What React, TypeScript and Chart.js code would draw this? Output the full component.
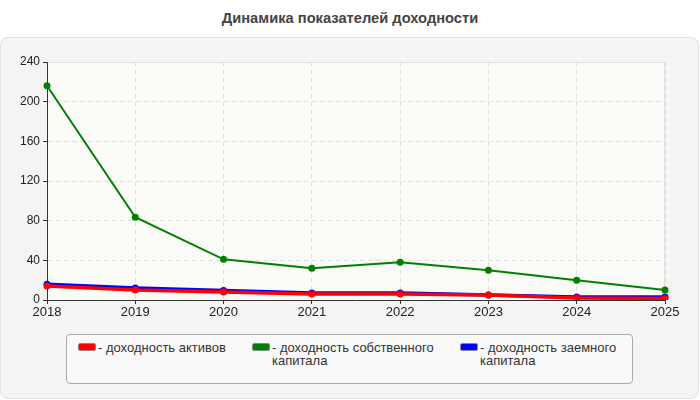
import { useEffect, useRef } from "react";
import Chart from "chart.js/auto";

const years = ["2018", "2019", "2020", "2021", "2022", "2023", "2024", "2025"];

const assetReturn = [14, 10, 8, 6, 6, 5, 2, 1.5];
const equityReturn = [216, 83.5, 41, 32, 38, 30, 20, 10];
const debtReturn = [16, 12, 9.5, 7, 7, 5, 3, 3];

const seriesNames = [
  "- доходность активов",
  "- доходность собственного капитала",
  "- доходность заемного капитала",
];
const seriesColors = ["#ff0000", "#008000", "#0000ff"];

const yTicks = { min: 0, max: 240, step: 40 };

const FONT = "'Liberation Sans', Arial, sans-serif";

// hatched background + light frame round the plot area
const plotBackground = {
  id: "plotBackground",
  beforeDraw(chart: Chart) {
    const { ctx, chartArea: a } = chart;
    if (!a) return;
    ctx.save();
    ctx.fillStyle = "#fdfdf9";
    ctx.fillRect(a.left, a.top, a.right - a.left, a.bottom - a.top);
    ctx.beginPath();
    ctx.rect(a.left, a.top, a.right - a.left, a.bottom - a.top);
    ctx.clip();
    ctx.strokeStyle = "#f3f3ef";
    ctx.lineWidth = 1;
    const h = a.bottom - a.top;
    for (let x = a.left - h; x < a.right; x += 4) {
      ctx.beginPath();
      ctx.moveTo(x, a.bottom);
      ctx.lineTo(x + h, a.top);
      ctx.stroke();
    }
    ctx.restore();
    ctx.save();
    ctx.strokeStyle = "#dddddd";
    ctx.lineWidth = 1;
    ctx.strokeRect(a.left + 0.5, a.top + 0.5, a.right - a.left - 1, a.bottom - a.top);
    ctx.restore();
  },
};

function ReturnsChart() {
  const chartRef = useRef<HTMLCanvasElement>(null);
  const chartInstance = useRef<Chart | null>(null);

  useEffect(() => {
    if (!chartRef.current) return;
    if (chartInstance.current) chartInstance.current.destroy();
    const ctx = chartRef.current.getContext("2d");
    if (!ctx) return;

    const values = [assetReturn, equityReturn, debtReturn];
    const widths = [3.5, 2, 3.5];

    chartInstance.current = new Chart(ctx, {
      type: "line",
      data: {
        labels: years,
        datasets: values.map((data, i) => ({
          label: seriesNames[i],
          data,
          borderColor: seriesColors[i],
          backgroundColor: seriesColors[i],
          borderWidth: widths[i],
          pointRadius: 3.5,
          pointBorderWidth: 0,
          tension: 0,
          fill: false,
        })),
      },
      options: {
        animation: false,
        responsive: false,
        maintainAspectRatio: false,
        layout: { padding: { left: 0, right: 35, top: 22, bottom: 0 } },
        plugins: {
          legend: { display: false },
          title: { display: false },
          tooltip: { enabled: false },
        },
        scales: {
          x: {
            type: "category",
            offset: false,
            afterFit: (scale: any) => {
              scale.height = 30;
            },
            grid: {
              color: "#e0e0e0",
              drawTicks: true,
              tickLength: 4,
              tickColor: "#333333",
            },
            border: { color: "#333333", width: 1, dash: [5, 3] } as any,
            ticks: {
              color: "#222222",
              font: { family: FONT, size: 13 },
              padding: 1,
              maxRotation: 0,
              autoSkip: false,
            },
          },
          y: {
            min: yTicks.min,
            max: yTicks.max,
            afterFit: (scale: any) => {
              scale.width = 47;
            },
            grid: {
              color: "#e0e0e0",
              drawTicks: true,
              tickLength: 4,
              tickColor: "#333333",
            },
            border: { color: "#333333", width: 1, dash: [5, 3] } as any,
            ticks: {
              stepSize: yTicks.step,
              color: "#222222",
              font: { family: FONT, size: 12 },
              padding: 3,
            },
          },
        },
      },
      plugins: [plotBackground],
    });

    return () => {
      if (chartInstance.current) {
        chartInstance.current.destroy();
        chartInstance.current = null;
      }
    };
  }, []);

  return (
    <canvas
      ref={chartRef}
      width={700}
      height={290}
      style={{ position: "absolute", left: 0, top: 40, width: 700, height: 290 }}
    />
  );
}

export default function App() {
  const legendLeft = [78, 252, 460];
  const legendWidth = [160, 185, 160];

  return (
    <div
      style={{
        position: "absolute",
        left: 0,
        top: 0,
        width: 700,
        height: 400,
        background: "#ffffff",
        fontFamily: FONT,
        overflow: "hidden",
      }}
    >
      <div
        style={{
          position: "absolute",
          left: 0,
          top: 10,
          width: 700,
          textAlign: "center",
          fontWeight: "bold",
          fontSize: 14.7,
          color: "#444444",
        }}
      >
        Динамика показателей доходности
      </div>
      <div
        style={{
          position: "absolute",
          left: 0,
          top: 37,
          width: 697,
          height: 360,
          background: "#f4f4f4",
          border: "1px solid #e2e2e2",
          borderRadius: 8,
        }}
      />
      <ReturnsChart />
      <div
        style={{
          position: "absolute",
          left: 66,
          top: 334,
          width: 565,
          height: 48,
          background: "#f9f9f9",
          border: "1px solid #aaaaaa",
          borderRadius: 4,
        }}
      />
      {seriesNames.map((name, i) => (
        <div
          key={name}
          style={{
            position: "absolute",
            left: legendLeft[i],
            top: 341,
            display: "flex",
            alignItems: "flex-start",
            fontSize: 13,
            color: "#333333",
            lineHeight: "13px",
          }}
        >
          <span
            style={{
              display: "inline-block",
              flexShrink: 0,
              width: 16,
              height: 6,
              marginTop: 2,
              background: seriesColors[i],
              border: "1px solid #888888",
              borderRadius: 2,
              marginRight: 2,
            }}
          />
          <span style={{ width: legendWidth[i] }}>{name}</span>
        </div>
      ))}
    </div>
  );
}
